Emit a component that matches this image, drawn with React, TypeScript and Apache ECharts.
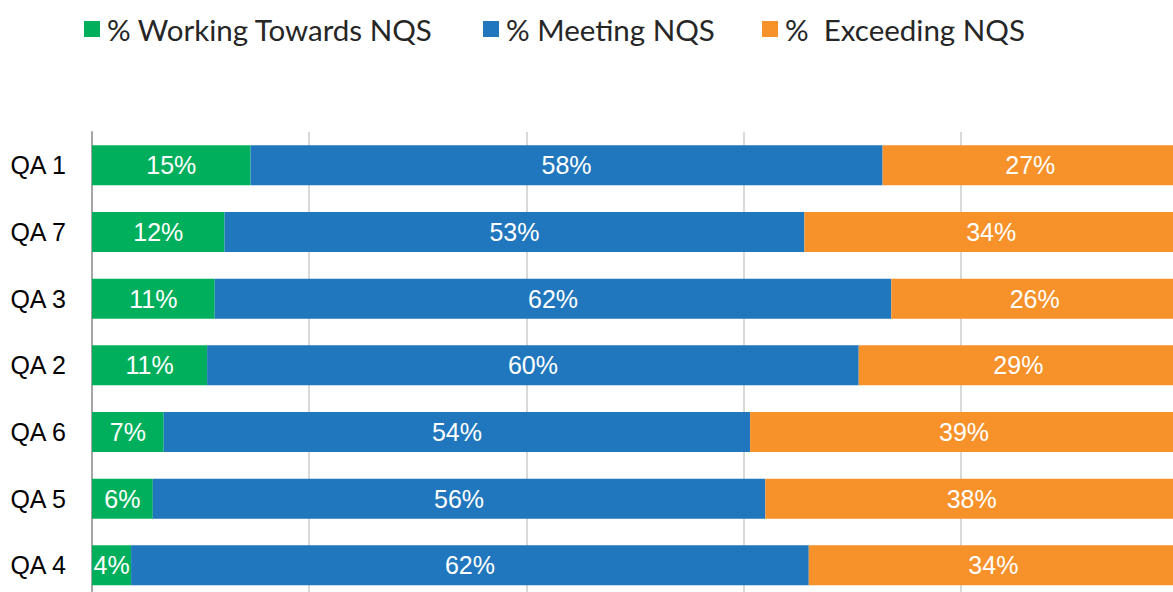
import React, { useEffect, useRef } from "react";
import * as echarts from "echarts";

const categories = ["QA 1", "QA 7", "QA 3", "QA 2", "QA 6", "QA 5", "QA 4"];
const working = [14.6, 12.2, 11.3, 10.6, 6.6, 5.6, 3.6];
const meeting = [58.2, 53.4, 62.3, 60.0, 54.0, 56.4, 62.4];
const exceeding = [27.2, 34.4, 26.4, 29.4, 39.4, 38.0, 34.0];
const seriesNames = ["% Working Towards NQS", "% Meeting NQS", "%  Exceeding NQS"];
const colors = ["#00AF5B", "#2177BD", "#F7912A"];
const xTicks = [0, 20, 40, 60, 80, 100];

export default function App() {
  const ref = useRef<HTMLDivElement>(null);
  useEffect(() => {
    if (!ref.current) return;
    const chart = echarts.init(ref.current, null, { renderer: "svg" });
    const legendLefts = [79, 478, 757];
    const labelStyle = {
      show: true,
      position: "inside",
      color: "#ffffff",
      fontFamily: "Liberation Sans, Arial, sans-serif",
      fontSize: 25,
      formatter: (p: any) => `${Math.round(p.value)}%`,
    };
    const valuesList = [working, meeting, exceeding];
    chart.setOption({
      animation: false,
      textStyle: { fontFamily: "Liberation Sans, Arial, sans-serif" },
      legend: seriesNames.map((n, i) => ({
        data: [n],
        left: legendLefts[i],
        top: 4,
        icon: "rect",
        itemWidth: 16,
        itemHeight: 16,
        selectedMode: false,
        textStyle: {
          fontFamily: "Lato",
          fontSize: 29.5,
          lineHeight: 40,
          color: "#262626",
          padding: [0, 0, 0, 2],
        },
      })),
      grid: { left: 92, top: 132, width: 1086, height: 466.67, containLabel: false },
      xAxis: {
        type: "value",
        min: xTicks[0],
        max: xTicks[xTicks.length - 1],
        interval: 20,
        axisLine: { show: false },
        axisTick: { show: false },
        axisLabel: { show: false },
        splitLine: { show: true, lineStyle: { color: "#D9D9D9", width: 2 } },
      },
      yAxis: {
        type: "category",
        data: categories,
        inverse: true,
        axisLine: { show: true, lineStyle: { color: "#A6A6A6", width: 2 } },
        axisTick: { show: false },
        axisLabel: { color: "#000000", fontSize: 25, margin: 26, fontFamily: "Liberation Sans, Arial, sans-serif" },
      },
      series: seriesNames.map((n, i) => ({
        name: n,
        type: "bar",
        stack: "total",
        barWidth: 40,
        data: valuesList[i],
        itemStyle: { color: colors[i] },
        label: labelStyle,
      })),
    });
    return () => chart.dispose();
  }, []);
  return (
    <div style={{ position: "fixed", left: 0, top: 0, width: 1173, height: 592, overflow: "hidden", background: "#fff" }}>
      <div ref={ref} style={{ width: 1200, height: 620 }} />
    </div>
  );
}
